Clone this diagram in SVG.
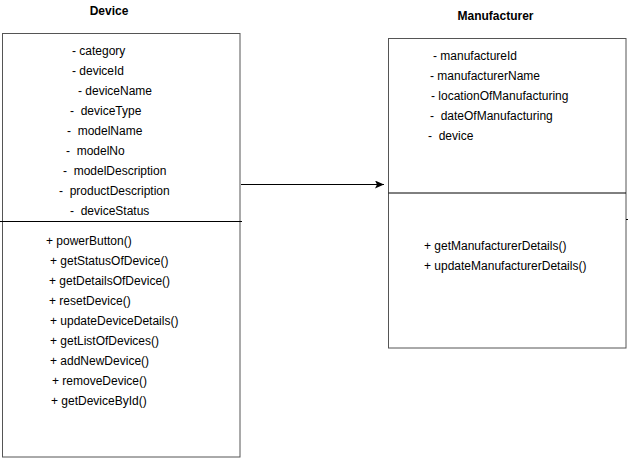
<svg xmlns="http://www.w3.org/2000/svg" width="630" height="459" viewBox="0 0 630 459">
<defs>
<style>
.box{fill:#fff;stroke:#555;stroke-width:1}
.div{stroke:#000;stroke-width:1;fill:none}
.t{font-family:"Liberation Sans",Arial,sans-serif;font-size:12px;fill:#000;white-space:pre}
.title{font-family:"Liberation Sans",Arial,sans-serif;font-size:12px;font-weight:bold;fill:#000;text-anchor:middle}
</style>
<marker id="arr" markerWidth="10" markerHeight="8" refX="9" refY="4" orient="auto" markerUnits="userSpaceOnUse">
<path d="M0,0 L9,4 L0,8 L2,4 Z" fill="#000"/>
</marker>
</defs>
<rect width="630" height="459" fill="#fff"/>
<g id="device">
<text class="title" x="109" y="15">Device</text>
<rect class="box" x="2.5" y="33.5" width="237.5" height="423.5"/>
<line class="div" x1="0" y1="221.5" x2="242" y2="221.5"/>
<text class="t" x="72" y="55">- category</text>
<text class="t" x="72" y="75">- deviceId</text>
<text class="t" x="78" y="95">- deviceName</text>
<text class="t" x="70" y="115">-  deviceType</text>
<text class="t" x="67" y="135">-  modelName</text>
<text class="t" x="66" y="155">-  modelNo</text>
<text class="t" x="63" y="175">-  modelDescription</text>
<text class="t" x="59" y="195">-  productDescription</text>
<text class="t" x="70" y="215">-  deviceStatus</text>
<text class="t" x="46" y="245">+ powerButton()</text>
<text class="t" x="50" y="265">+ getStatusOfDevice()</text>
<text class="t" x="49" y="285">+ getDetailsOfDevice()</text>
<text class="t" x="49" y="305">+ resetDevice()</text>
<text class="t" x="50" y="325">+ updateDeviceDetails()</text>
<text class="t" x="50" y="345">+ getListOfDevices()</text>
<text class="t" x="50" y="365">+ addNewDevice()</text>
<text class="t" x="52" y="385">+ removeDevice()</text>
<text class="t" x="51" y="405">+ getDeviceById()</text>
</g>
<g id="manufacturer">
<text class="title" x="495.5" y="20">Manufacturer</text>
<rect class="box" x="388.5" y="38.5" width="237.5" height="309.5"/>
<line class="div" x1="388.5" y1="193" x2="626" y2="193"/>
<line class="div" x1="626" y1="219.5" x2="628" y2="219.5"/>
<text class="t" x="433" y="60">- manufactureId</text>
<text class="t" x="430" y="80">- manufacturerName</text>
<text class="t" x="431" y="100">- locationOfManufacturing</text>
<text class="t" x="430" y="120">-  dateOfManufacturing</text>
<text class="t" x="428" y="140">-  device</text>
<text class="t" x="424" y="250">+ getManufacturerDetails()</text>
<text class="t" x="424" y="270">+ updateManufacturerDetails()</text>
</g>
<g id="connectors">
<line x1="241" y1="184.5" x2="384" y2="184.5" stroke="#000" stroke-width="1" marker-end="url(#arr)"/>
</g>
</svg>
